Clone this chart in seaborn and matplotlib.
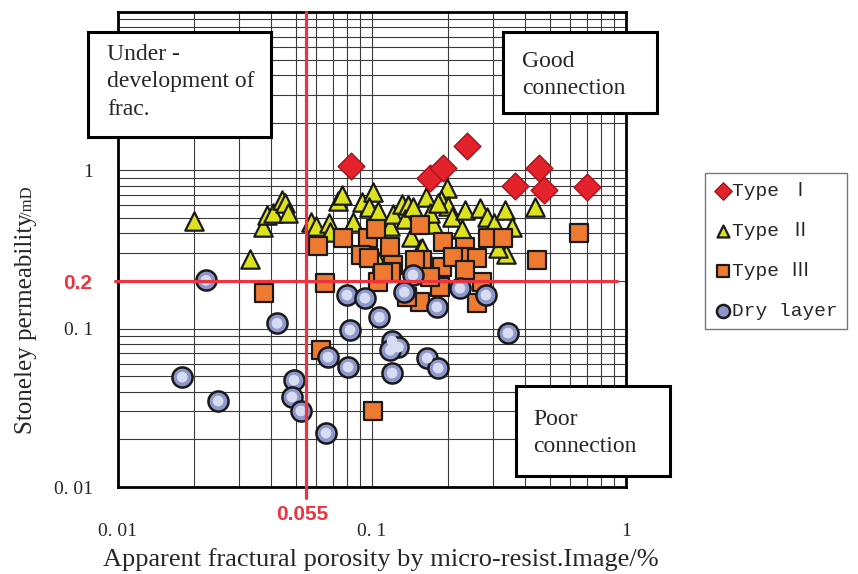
import matplotlib.pyplot as plt
import seaborn as sns
from matplotlib.patches import Rectangle
from matplotlib.ticker import LogLocator, NullFormatter, FixedLocator, FixedFormatter

# values
type1_x = [0.0826, 0.169, 0.190, 0.237, 0.366, 0.454, 0.475, 0.702]
type1_y = [1.06, 0.90, 1.03, 1.42, 0.80, 1.03, 0.75, 0.79]

type2_x = [0.0199, 0.0331, 0.0372, 0.0386, 0.0407, 0.0442, 0.0454, 0.0467, 0.0575, 0.0602,
           0.0677, 0.0683, 0.0735, 0.0762, 0.0842, 0.0914, 0.101, 0.0973, 0.106, 0.103,
           0.118, 0.121, 0.131, 0.139, 0.135, 0.143, 0.155, 0.163, 0.197, 0.187,
           0.199, 0.207, 0.174, 0.226, 0.232, 0.266, 0.284, 0.302, 0.334, 0.356,
           0.337, 0.438, 0.157, 0.145, 0.169, 0.182, 0.313]
type2_y = [0.477, 0.274, 0.437, 0.520, 0.535, 0.647, 0.619, 0.535, 0.470, 0.443,
           0.463, 0.406, 0.637, 0.695, 0.470, 0.628, 0.727, 0.584, 0.551, 0.291,
           0.443, 0.528, 0.610, 0.601, 0.491, 0.378, 0.317, 0.676, 0.770, 0.647,
           0.593, 0.505, 0.456, 0.424, 0.560, 0.576, 0.505, 0.463, 0.560, 0.437,
           0.295, 0.584, 0.322, 0.584, 0.535, 0.619, 0.322]

type3_x = [0.0376, 0.0613, 0.0769, 0.0653, 0.0630, 0.101, 0.0964, 0.104, 0.0905, 0.0973,
           0.118, 0.121, 0.119, 0.106, 0.155, 0.157, 0.190, 0.189, 0.232, 0.228,
           0.208, 0.259, 0.286, 0.328, 0.447, 0.653, 0.271, 0.259, 0.155, 0.137,
           0.185, 0.232, 0.110, 0.148, 0.169]
type3_y = [0.168, 0.332, 0.372, 0.194, 0.0731, 0.0302, 0.372, 0.424, 0.291, 0.279,
           0.327, 0.252, 0.227, 0.197, 0.450, 0.271, 0.351, 0.244, 0.327, 0.283,
           0.283, 0.279, 0.372, 0.372, 0.271, 0.401, 0.197, 0.145, 0.147, 0.158,
           0.183, 0.234, 0.224, 0.271, 0.211]

dry_x = [0.0179, 0.0248, 0.0222, 0.0423, 0.0493, 0.0484, 0.0525, 0.0659, 0.0671, 0.0797,
         0.0938, 0.0819, 0.0805, 0.107, 0.120, 0.127, 0.118, 0.120, 0.145, 0.134,
         0.180, 0.165, 0.182, 0.222, 0.281, 0.343]
dry_y = [0.0494, 0.0349, 0.202, 0.108, 0.0473, 0.0370, 0.0302, 0.0219, 0.0661, 0.163,
         0.156, 0.098, 0.0572, 0.118, 0.0834, 0.0764, 0.0731, 0.0524, 0.218, 0.170,
         0.137, 0.0652, 0.0564, 0.180, 0.163, 0.0937]

x_cut = 0.055
y_cut = 0.2

sns.set_style("white")
plt.rcParams["font.family"] = ["Liberation Serif", "Noto Sans CJK SC"]

W, H = 858, 574
fig = plt.figure(figsize=(W / 100, H / 100), dpi=100)
ax = fig.add_axes([118 / W, 87 / H, 508 / W, 475 / H])
ax.set_xscale("log")
ax.set_yscale("log")

sns.scatterplot(x=type2_x, y=type2_y, marker="^", s=175, color="#dce21e", edgecolor="#1a1a1a",
                linewidth=1.6, label="Type Ⅱ", ax=ax, zorder=3)
sns.scatterplot(x=type3_x, y=type3_y, marker="s", s=150, color="#ee7a32", edgecolor="#1a1a1a",
                linewidth=1.6, label="Type Ⅲ", ax=ax, zorder=4)
sns.scatterplot(x=dry_x, y=dry_y, marker="o", s=210, color="#8d97cc", edgecolor="#1a1a1a",
                linewidth=1.8, label="Dry layer", ax=ax, zorder=5)
sns.scatterplot(x=dry_x, y=dry_y, marker="o", s=60, color="#d7dcf2", edgecolor="none",
                legend=False, ax=ax, zorder=6)
sns.scatterplot(x=type1_x, y=type1_y, marker="D", s=185, color="#e3222c", edgecolor="#a8121a",
                linewidth=1.0, label="Type Ⅰ", ax=ax, zorder=7)

ax.set_xlim(0.01, 1)
ax.set_ylim(0.01, 10)

ax.xaxis.set_major_locator(FixedLocator([0.01, 0.1, 1]))
ax.xaxis.set_major_formatter(FixedFormatter(["0. 01", "0. 1", "1"]))
ax.yaxis.set_major_locator(FixedLocator([0.01, 0.1, 1]))
ax.yaxis.set_major_formatter(FixedFormatter(["0. 01", "0. 1", "1"]))
for axis in (ax.xaxis, ax.yaxis):
    axis.set_minor_locator(LogLocator(base=10, subs=range(2, 10), numticks=20))
    axis.set_minor_formatter(NullFormatter())
ax.grid(True, which="both", color="#3a3a3a", lw=0.8)
ax.set_axisbelow(True)
ax.tick_params(which="both", length=0, labelsize=14)
ax.tick_params(axis="x", pad=26)
ax.tick_params(axis="y", pad=18)
for sp in ax.spines.values():
    sp.set_color("black")
    sp.set_linewidth(2)
ax.set_xlabel("")
ax.set_ylabel("")

# red cut-off lines
red = "#ee3340"
ax.plot([x_cut, x_cut], [0.0085, 10], color=red, lw=2.3, zorder=8, clip_on=False)
ax.plot([0.0097, 0.92], [y_cut, y_cut], color=red, lw=2.3, zorder=8, clip_on=False)
fig.text(78 / W, 1 - 284 / H, "0.2", color=red, fontsize=15, fontweight="bold",
         family="Liberation Sans", ha="center", va="center")
fig.text(302 / W, 1 - 514 / H, "0.055", color=red, fontsize=15, fontweight="bold",
         family="Liberation Sans", ha="center", va="center")

# axis titles
fig.text(381 / W, 1 - 560 / H, "Apparent fractural porosity by micro-resist.Image/%",
         fontsize=19, ha="center", va="center")
fig.text(37 / W, 1 - 434 / H, "Stoneley permeability", fontsize=18, rotation=90,
         ha="right", va="bottom")
fig.text(36 / W, 1 - 216 / H, "/mD", fontsize=12, rotation=90, ha="right", va="bottom")

# annotation boxes
boxes = [
    ((88, 32, 271, 137), (107, 82), "Under -\ndevelopment of\nfrac."),
    ((503, 32, 657, 113), (522, 75), "Good\nconnection"),
    ((516, 386, 670, 476), (533, 433), "Poor\nconnection"),
]
for (x0, y0, x1, y1), (tx, ty), txt in boxes:
    fig.add_artist(Rectangle((x0 / W, 1 - y1 / H), (x1 - x0) / W, (y1 - y0) / H,
                             transform=fig.transFigure, facecolor="white", edgecolor="black",
                             lw=2.2, zorder=10))
    fig.text(tx / W, 1 - ty / H, txt, fontsize=17, linespacing=1.38,
             ha="left", va="center", zorder=11)

handles, labels = ax.get_legend_handles_labels()
order = [labels.index(k) for k in ["Type Ⅰ", "Type Ⅱ", "Type Ⅲ", "Dry layer"]]
ax.legend([handles[i] for i in order], [labels[i] for i in order],
          loc="upper left", bbox_to_anchor=(705 / W, 1 - 173 / H), bbox_transform=fig.transFigure,
          frameon=True, fancybox=False, edgecolor="#777777", framealpha=1, borderaxespad=0,
          borderpad=0.45, labelspacing=1.15, handletextpad=0.05, handlelength=0.9,
          markerscale=0.65, prop={"family": ["Liberation Mono", "Noto Sans CJK SC"], "size": 14})

fig.savefig("out.png", dpi=100)
